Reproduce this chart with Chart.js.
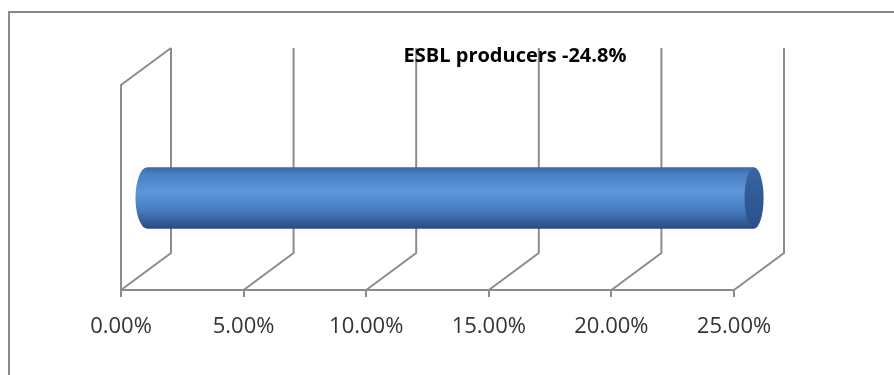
<!DOCTYPE html>
<html lang="en">
    <head>
        <script src="https://cdn.jsdelivr.net/npm/chart.js@4"></script>
        <title>ESBL producers</title>
        <style>
            body { margin: 0; background: #fff; }
        </style>
    </head>
    <body>
        <canvas id="myChart" width="894" height="375"></canvas>

        <script>
            // data
            let categories = ['ESBL producers'];
            let values = [0.248];
            let tickLabels = ['0.00%', '5.00%', '10.00%', '15.00%', '20.00%', '25.00%'];
            let titleText = 'ESBL producers -24.8%';

            // 3d look: depth of the floor / walls
            let depthX = 50, depthY = -37;
            let lineColor = '#8c8c8c';

            let wallsPlugin = {
                id: 'walls',
                beforeDraw(chart) {
                    let ctx = chart.ctx;
                    ctx.save();
                    // outer frame (only top and left show)
                    ctx.strokeStyle = '#8a8a8a';
                    ctx.lineWidth = 2;
                    ctx.beginPath();
                    ctx.moveTo(9, 400);
                    ctx.lineTo(9, 12);
                    ctx.lineTo(900, 12);
                    ctx.stroke();
                    ctx.restore();
                },
                beforeDatasetsDraw(chart) {
                    let ctx = chart.ctx;
                    let xs = chart.scales.x;
                    let bottom = chart.chartArea.bottom;
                    let backTop = 48;
                    ctx.save();
                    ctx.strokeStyle = lineColor;
                    ctx.lineWidth = 2;
                    ctx.beginPath();
                    xs.ticks.forEach(t => {
                        let fx = xs.getPixelForValue(t.value);
                        ctx.moveTo(fx, bottom);
                        ctx.lineTo(fx + depthX, bottom + depthY);
                        ctx.lineTo(fx + depthX, backTop);
                    });
                    // left wall
                    let x0 = xs.getPixelForValue(0);
                    ctx.moveTo(x0, bottom);
                    ctx.lineTo(x0, backTop - depthY);
                    ctx.lineTo(x0 + depthX, backTop);
                    ctx.stroke();
                    ctx.restore();

                    // bar sits halfway into the depth
                    let meta = chart.getDatasetMeta(0);
                    let bar = meta.data[0];
                    let top = bar.y - bar.height / 2;
                    let g = ctx.createLinearGradient(0, top, 0, top + bar.height);
                    g.addColorStop(0, '#3a67a8');
                    g.addColorStop(0.12, '#4b82c6');
                    g.addColorStop(0.4, '#5e96da');
                    g.addColorStop(0.7, '#477cc0');
                    g.addColorStop(0.9, '#325b96');
                    g.addColorStop(1, '#284c80');
                    bar.options.backgroundColor = g;
                    chart.$barGradient = g;
                    ctx.save();
                    ctx.translate(depthX / 2, depthY / 2);
                },
                afterDatasetsDraw(chart) {
                    let ctx = chart.ctx;
                    let bar = chart.getDatasetMeta(0).data[0];
                    let ry = bar.height / 2;
                    // rounded left end
                    ctx.fillStyle = chart.$barGradient;
                    ctx.beginPath();
                    ctx.ellipse(bar.base, bar.y, 11.5, ry, 0, Math.PI / 2, Math.PI * 1.5);
                    ctx.fill();
                    // end cap on the right
                    let cg = ctx.createLinearGradient(0, bar.y - ry, 0, bar.y + ry);
                    cg.addColorStop(0, '#3a66a3');
                    cg.addColorStop(0.5, '#2f5a96');
                    cg.addColorStop(1, '#2b5189');
                    ctx.fillStyle = cg;
                    ctx.beginPath();
                    ctx.ellipse(bar.x, bar.y, 9.5, ry, 0, 0, Math.PI * 2);
                    ctx.fill();
                    ctx.restore();
                },
                afterDraw(chart) {
                    let ctx = chart.ctx;
                    ctx.save();
                    ctx.font = 'bold 20px "Open Sans"';
                    ctx.fillStyle = '#000';
                    ctx.textAlign = 'center';
                    ctx.textBaseline = 'middle';
                    ctx.fillText(titleText, 515, 56);
                    ctx.restore();
                }
            };

            let myChart = document.getElementById('myChart').getContext('2d');
            let barChart = new Chart(myChart, {
                type: 'bar',
                plugins: [wallsPlugin],
                data: {
                    labels: categories,
                    datasets: [{
                        label: 'ESBL producers',
                        data: values,
                        backgroundColor: '#4f86c6',
                        borderWidth: 0,
                        barThickness: 61,
                        clip: false
                    }]
                },
                options: {
                    indexAxis: 'y',
                    responsive: false,
                    animation: false,
                    layout: {
                        padding: { left: 121, right: 160, top: 143, bottom: 0 }
                    },
                    plugins: {
                        legend: { display: false },
                        tooltip: { enabled: false }
                    },
                    scales: {
                        x: {
                            min: 0,
                            max: 0.25,
                            afterFit: s => { s.height = 85; },
                            grid: {
                                drawOnChartArea: false,
                                color: lineColor,
                                lineWidth: 2,
                                tickLength: 7
                            },
                            border: { color: lineColor, width: 2 },
                            ticks: {
                                stepSize: 0.05,
                                padding: 17,
                                color: '#333',
                                font: { family: '"Open Sans"', size: 22 },
                                maxRotation: 0,
                                callback: (v, i) => tickLabels[i]
                            }
                        },
                        y: { display: false }
                    }
                }
            });
        </script>
    </body>
</html>
